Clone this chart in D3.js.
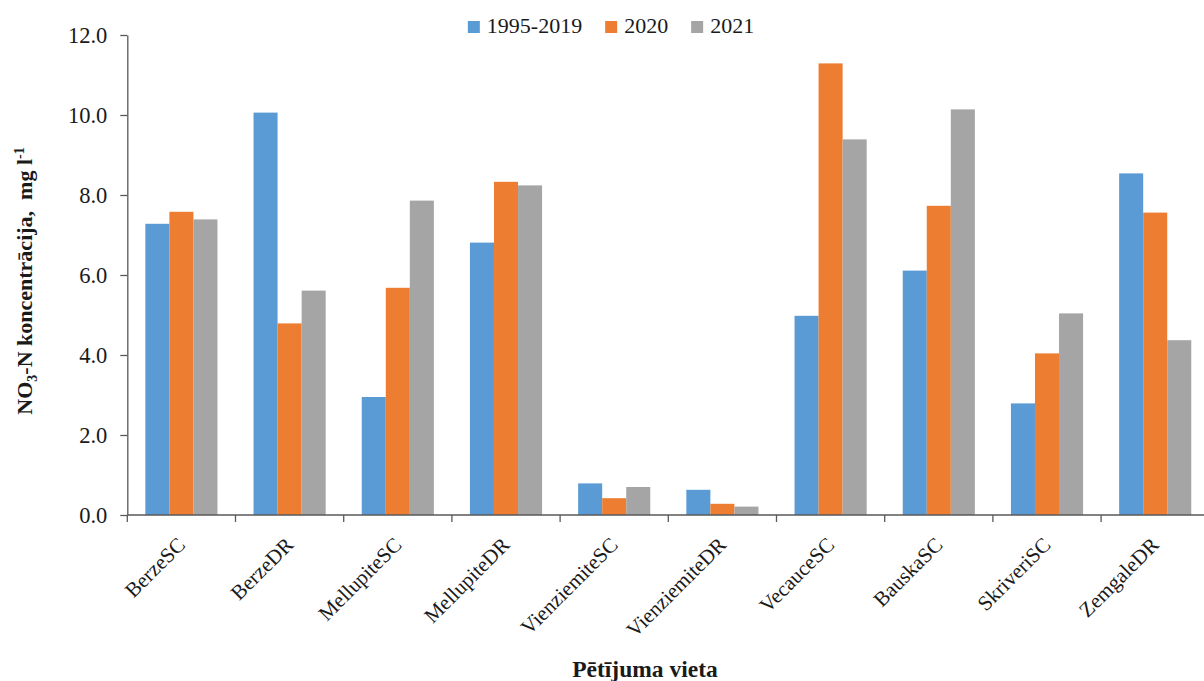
<!DOCTYPE html>
<html>
<head>
<meta charset="utf-8">
<script src="https://cdn.jsdelivr.net/npm/d3@7"></script>
<style>
  html, body { margin: 0; padding: 0; background: #fff; }
  svg { display: block; font-family: "Liberation Serif", "Times New Roman", serif; }
</style>
</head>
<body>
<svg id="chart"></svg>
<script>
// data
const sites = ["BerzeSC", "BerzeDR", "MellupiteSC", "MellupiteDR", "VienziemiteSC",
               "VienziemiteDR", "VecauceSC", "BauskaSC", "SkriveriSC", "ZemgaleDR"];
const seriesNames = ["1995-2019", "2020", "2021"];
const values1995_2019 = [7.28, 10.06, 2.95, 6.81, 0.79, 0.63, 4.98, 6.11, 2.79, 8.54];
const values2020      = [7.58, 4.79, 5.68, 8.33, 0.42, 0.28, 11.29, 7.73, 4.04, 7.56];
const values2021      = [7.39, 5.61, 7.86, 8.24, 0.70, 0.21, 9.39, 10.14, 5.04, 4.37];
const yTicks = [0, 2, 4, 6, 8, 10, 12];
const colors = ["#5B9BD5", "#ED7D31", "#A5A5A5"];

const allValues = [values1995_2019, values2020, values2021];
const rows = sites.map((s, i) => ({
    site: s,
    vals: seriesNames.map((n, j) => ({ name: n, value: allValues[j][i], idx: j }))
}));

// size of the page and the plot area
const w = 1204, h = 681;
const margin = { top: 35, left: 127.3, bottom: 166 };
const plotRight = 1209.3;   // the axis runs off the right edge in the original

const svg = d3.select("#chart").attr("width", w).attr("height", h);

const xScale = d3.scaleBand()
    .domain(sites)
    .range([margin.left, plotRight])
    .padding(0);

const xInner = d3.scaleBand()
    .domain(seriesNames)
    .range([0, xScale.bandwidth()])
    .paddingInner(0)
    .paddingOuter(0.75);

const yScale = d3.scaleLinear()
    .domain([0, 12])
    .range([h - margin.bottom, margin.top]);

const axisColor = "#595959";
const textColor = "#1a1a1a";

// bars
svg.append("g")
    .selectAll("g")
    .data(rows)
    .join("g")
    .attr("transform", d => `translate(${xScale(d.site)},0)`)
    .selectAll("rect")
    .data(d => d.vals)
    .join("rect")
        .attr("x", d => xInner(d.name))
        .attr("y", d => yScale(d.value))
        .attr("width", xInner.bandwidth())
        .attr("height", d => yScale(0) - yScale(d.value))
        .attr("fill", d => colors[d.idx]);

// y axis
const yAxis = g => g
    .attr("transform", `translate(${margin.left},0)`)
    .call(d3.axisLeft(yScale).tickValues(yTicks).tickFormat(d3.format(".1f"))
        .tickSize(7).tickPadding(13).tickSizeOuter(0))
    .call(g => g.selectAll("path, line").attr("stroke", axisColor).attr("stroke-width", 1.3))
    .call(g => g.selectAll("text")
        .attr("fill", textColor)
        .style("font-size", "22.5px")
        .style("font-family", "'Liberation Serif', serif"));

svg.append("g").call(yAxis);

// x axis: ticks sit on the borders between the sites
const y0 = yScale(0);
const xAxisG = svg.append("g");
xAxisG.append("line")
    .attr("x1", margin.left).attr("x2", plotRight)
    .attr("y1", y0).attr("y2", y0)
    .attr("stroke", axisColor).attr("stroke-width", 1.3);

const tickPositions = sites.map(s => xScale(s)).concat([xScale.range()[1]]);
xAxisG.selectAll(".xtick")
    .data(tickPositions)
    .join("line")
    .attr("class", "xtick")
    .attr("x1", d => d).attr("x2", d => d)
    .attr("y1", y0).attr("y2", y0 + 7)
    .attr("stroke", axisColor).attr("stroke-width", 1.3);

xAxisG.selectAll(".xlabel")
    .data(sites)
    .join("text")
    .attr("class", "xlabel")
    .attr("text-anchor", "end")
    .attr("fill", textColor)
    .style("font-size", "21px")
    .attr("transform", d => `translate(${xScale(d) + xScale.bandwidth() / 2 + 5},${y0 + 31}) rotate(-45)`)
    .text(d => d);

// axis titles
const yTitle = svg.append("text")
    .attr("transform", `translate(32,${(yScale(0) + yScale(12)) / 2 + 6}) rotate(-90)`)
    .attr("text-anchor", "middle")
    .attr("fill", textColor)
    .style("font-size", "22px")
    .style("font-weight", "bold");
yTitle.append("tspan").text("NO");
yTitle.append("tspan").text("3").style("font-size", "14px").attr("dy", 5);
yTitle.append("tspan").text("-N koncentrācija,\u00a0 mg l").attr("dy", -5);
yTitle.append("tspan").text("-1").style("font-size", "14px").attr("dy", -8);

svg.append("text")
    .attr("x", 645)
    .attr("y", 677)
    .attr("text-anchor", "middle")
    .attr("fill", textColor)
    .style("font-size", "23.5px")
    .style("font-weight", "bold")
    .text("Pētījuma vieta");

// legend, centred above the plot
const legend = svg.append("g");
let lx = 0;
seriesNames.forEach((name, i) => {
    const item = legend.append("g").attr("transform", `translate(${lx},0)`);
    item.append("rect")
        .attr("x", 0).attr("y", 21)
        .attr("width", 12).attr("height", 12)
        .attr("fill", colors[i]);
    const t = item.append("text")
        .attr("x", 19).attr("y", 33)
        .attr("fill", textColor)
        .style("font-size", "22px")
        .text(name);
    lx += 19 + t.node().getComputedTextLength() + 23;
});
const legendWidth = lx - 23;
legend.attr("transform", `translate(${611 - legendWidth / 2},0)`);
</script>
</body>
</html>
